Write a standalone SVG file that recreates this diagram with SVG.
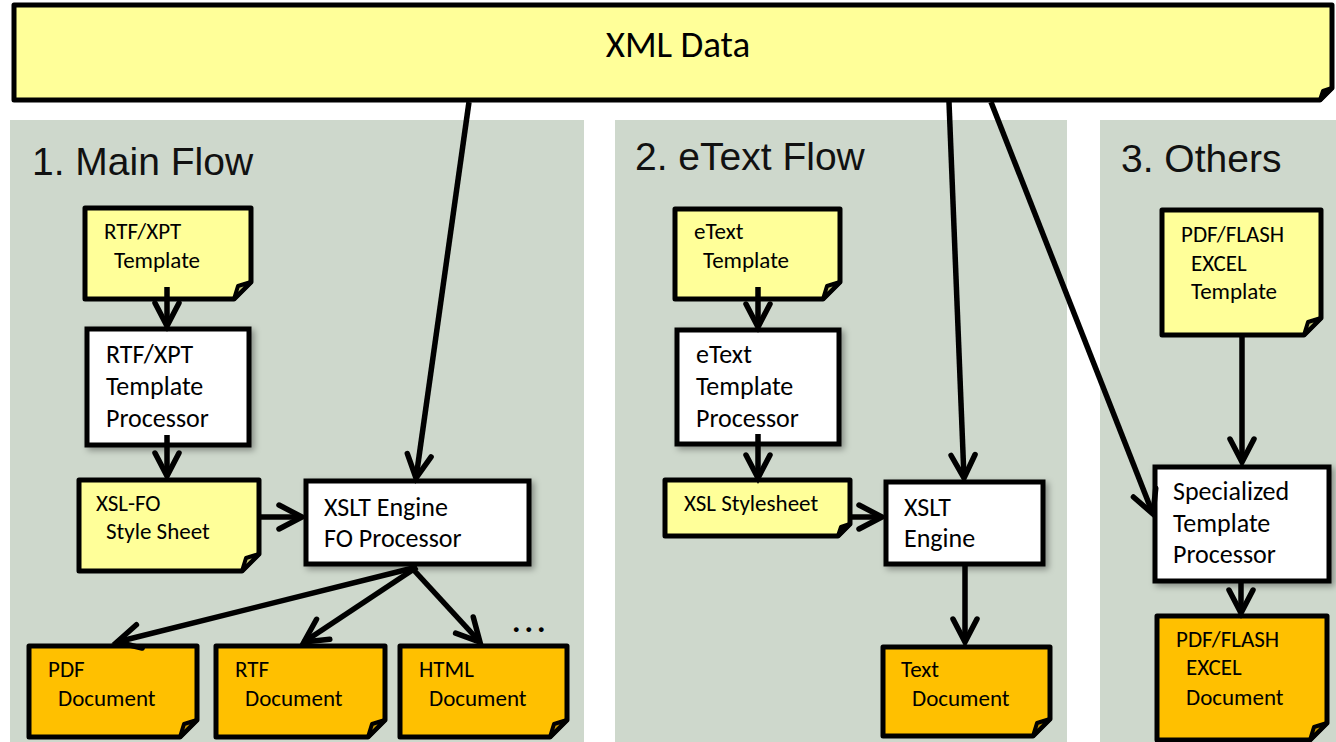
<svg xmlns="http://www.w3.org/2000/svg" width="1336" height="742" viewBox="0 0 1336 742">
<defs>
<style>
.panel{fill:#CED8CC;stroke:none}
.title{font-family:"Liberation Sans",Arial,sans-serif;font-size:39px;fill:#111}
.lbl{font-family:Carlito,Calibri,Lato,"Liberation Sans",sans-serif;fill:#000}
.s23{font-size:23px}
.s26{font-size:26px}
.note{fill:#FFFF99;stroke:#000;stroke-width:5;stroke-linejoin:round}
.doc{fill:#FFC000;stroke:#000;stroke-width:5;stroke-linejoin:round}
.fold{stroke:#000;stroke-width:4;stroke-linejoin:round}
.note-fold{fill:#CCCC7A}
.doc-fold{fill:#CC9A00}
.box{fill:#FFFFFF;stroke:#000;stroke-width:5;filter:url(#sh)}
.conn{fill:none;stroke:#000;stroke-width:5.5;marker-end:url(#arr)}
</style>
<filter id="sh" x="-10%" y="-10%" width="130%" height="130%">
<feDropShadow dx="3" dy="3" stdDeviation="3" flood-color="#000" flood-opacity="0.35"/>
</filter>
<marker id="arr" markerUnits="userSpaceOnUse" viewBox="-30 -20 40 40" refX="0" refY="0" markerWidth="40" markerHeight="40" orient="auto">
<path d="M-23,-12 L0,0 L-23,12" fill="none" stroke="#000" stroke-width="5.5" stroke-linecap="round" stroke-linejoin="miter"/>
</marker>
</defs>
<rect width="1336" height="742" fill="#FFFFFF"/>
<g id="panels">
<rect class="panel" x="10" y="120" width="574" height="622"/>
<rect class="panel" x="615" y="120" width="452" height="622"/>
<rect class="panel" x="1100" y="120" width="236" height="622"/>
<text class="title" x="32" y="175">1. Main Flow</text>
<text class="title" x="635" y="170">2. eText Flow</text>
<text class="title" x="1121" y="172">3. Others</text>
</g>
<g id="xml-data">
<path class="note" d="M14,5 H1332 V88 L1320,100 H14 Z"/>
<path class="fold note-fold" d="M1320,100 L1323,91 L1332,88 Z"/>
<text class="lbl" x="678" y="57" font-size="37" text-anchor="middle">XML Data</text>
</g>
<g id="rtf-template">
<path class="note" d="M85,208 H251 V282 L234,299 H85 Z"/>
<path class="fold note-fold" d="M234,299 L238,286 L251,282 Z"/>
<text class="lbl s23" x="104" y="239">RTF/XPT</text>
<text class="lbl s23" x="114" y="268">Template</text>
</g>
<g id="rtf-processor">
<rect class="box" x="87" y="329" width="162" height="116"/>
<text class="lbl s26" x="106" y="363">RTF/XPT</text>
<text class="lbl s26" x="106" y="395">Template</text>
<text class="lbl s26" x="106" y="427">Processor</text>
</g>
<g id="xslfo-sheet">
<path class="note" d="M79,480 H259 V554 L242,571 H79 Z"/>
<path class="fold note-fold" d="M242,571 L246,558 L259,554 Z"/>
<text class="lbl s23" x="96" y="511">XSL-FO</text>
<text class="lbl s23" x="106" y="539">Style Sheet</text>
</g>
<g id="xslt-fo">
<rect class="box" x="306" y="481" width="223" height="83"/>
<text class="lbl s26" x="324" y="516">XSLT Engine</text>
<text class="lbl s26" x="324" y="547">FO Processor</text>
</g>
<g id="pdf-doc">
<path class="doc" d="M29,646 H197 V720 L180,737 H29 Z"/>
<path class="fold doc-fold" d="M180,737 L184,724 L197,720 Z"/>
<text class="lbl s23" x="48" y="677">PDF</text>
<text class="lbl s23" x="58" y="706">Document</text>
</g>
<g id="rtf-doc">
<path class="doc" d="M216,646 H385 V720 L368,737 H216 Z"/>
<path class="fold doc-fold" d="M368,737 L372,724 L385,720 Z"/>
<text class="lbl s23" x="235" y="677">RTF</text>
<text class="lbl s23" x="245" y="706">Document</text>
</g>
<g id="html-doc">
<path class="doc" d="M400,646 H567 V720 L550,737 H400 Z"/>
<path class="fold doc-fold" d="M550,737 L554,724 L567,720 Z"/>
<text class="lbl s23" x="419" y="677">HTML</text>
<text class="lbl s23" x="429" y="706">Document</text>
</g>
<g id="more">
<text class="lbl" x="512" y="632" font-size="32" font-weight="bold" letter-spacing="4">...</text>
</g>
<g id="etext-template">
<path class="note" d="M675,209 H840 V282 L823,299 H675 Z"/>
<path class="fold note-fold" d="M823,299 L827,286 L840,282 Z"/>
<text class="lbl s23" x="694" y="239">eText</text>
<text class="lbl s23" x="703" y="268">Template</text>
</g>
<g id="etext-processor">
<rect class="box" x="677" y="330" width="162" height="114"/>
<text class="lbl s26" x="696" y="363">eText</text>
<text class="lbl s26" x="696" y="395">Template</text>
<text class="lbl s26" x="696" y="427">Processor</text>
</g>
<g id="xsl-stylesheet">
<path class="note" d="M665,480 H850 V524 L838,536 H665 Z"/>
<path class="fold note-fold" d="M838,536 L841,527 L850,524 Z"/>
<text class="lbl s23" x="684" y="511">XSL Stylesheet</text>
</g>
<g id="xslt-engine">
<rect class="box" x="886" y="482" width="157" height="82"/>
<text class="lbl s26" x="904" y="516">XSLT</text>
<text class="lbl s26" x="904" y="547">Engine</text>
</g>
<g id="text-doc">
<path class="doc" d="M883,647 H1050 V719 L1033,736 H883 Z"/>
<path class="fold doc-fold" d="M1033,736 L1037,723 L1050,719 Z"/>
<text class="lbl s23" x="901" y="677">Text</text>
<text class="lbl s23" x="912" y="706">Document</text>
</g>
<g id="others-template">
<path class="note" d="M1162,210 H1321 V318 L1304,335 H1162 Z"/>
<path class="fold note-fold" d="M1304,335 L1308,322 L1321,318 Z"/>
<text class="lbl s23" x="1181" y="242">PDF/FLASH</text>
<text class="lbl s23" x="1191" y="271">EXCEL</text>
<text class="lbl s23" x="1191" y="299">Template</text>
</g>
<g id="specialized-processor">
<rect class="box" x="1155" y="467" width="174" height="114"/>
<text class="lbl s26" x="1173" y="500">Specialized</text>
<text class="lbl s26" x="1173" y="532">Template</text>
<text class="lbl s26" x="1173" y="563">Processor</text>
</g>
<g id="others-doc">
<path class="doc" d="M1157,616 H1327 V723 L1310,740 H1157 Z"/>
<path class="fold doc-fold" d="M1310,740 L1314,727 L1327,723 Z"/>
<text class="lbl s23" x="1176" y="647">PDF/FLASH</text>
<text class="lbl s23" x="1186" y="675">EXCEL</text>
<text class="lbl s23" x="1186" y="705">Document</text>
</g>
<g id="connectors">
<line class="conn" x1="469" y1="102" x2="416" y2="478"/>
<line class="conn" x1="949" y1="102" x2="964" y2="478"/>
<line class="conn" x1="991" y1="102" x2="1153" y2="514"/>
<line class="conn" x1="167" y1="287" x2="167" y2="326"/>
<line class="conn" x1="167" y1="435" x2="167" y2="476"/>
<line class="conn" x1="261" y1="517" x2="302" y2="517"/>
<line class="conn" x1="417" y1="567" x2="117" y2="642"/>
<line class="conn" x1="417" y1="567" x2="304" y2="642"/>
<line class="conn" x1="411" y1="567" x2="480" y2="642"/>
<line class="conn" x1="758" y1="287" x2="758" y2="327"/>
<line class="conn" x1="758" y1="434" x2="758" y2="478"/>
<line class="conn" x1="850" y1="517" x2="882" y2="517"/>
<line class="conn" x1="965" y1="566" x2="965" y2="642"/>
<line class="conn" x1="1242" y1="337" x2="1242" y2="462"/>
<line class="conn" x1="1241" y1="583" x2="1241" y2="613"/>
</g>
</svg>
